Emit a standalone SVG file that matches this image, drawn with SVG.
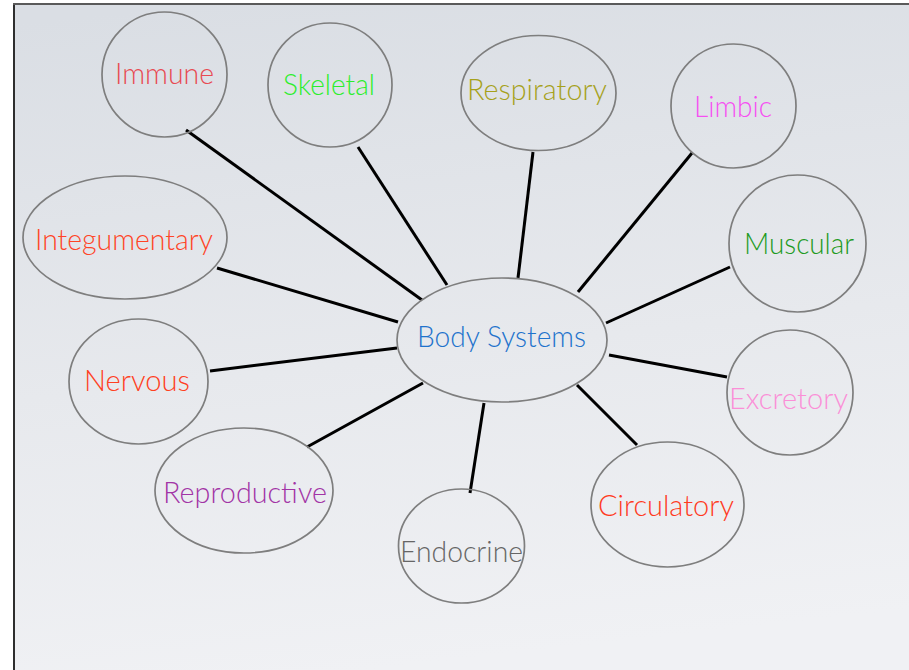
<svg xmlns="http://www.w3.org/2000/svg" width="909" height="670" viewBox="0 0 909 670">
  <defs>
    <linearGradient id="bg" x1="0.2" y1="0" x2="0.35" y2="1">
      <stop offset="0" stop-color="#dadee4"/>
      <stop offset="0.55" stop-color="#e7e9ed"/>
      <stop offset="1" stop-color="#f0f1f4"/>
    </linearGradient>
    <style>
      .node ellipse { fill: none; stroke: #7e7e7e; stroke-width: 1.7; }
      .node text { font-family: "Lato", "Liberation Sans", sans-serif; font-weight: 300; font-size: 30px; }
      #connectors line { stroke: #000; stroke-width: 3; stroke-linecap: butt; }
    </style>
  </defs>
  <rect x="0" y="0" width="909" height="670" fill="#ffffff"/>
  <rect x="14" y="4" width="900" height="670" fill="url(#bg)"/>
  <line x1="14" y1="3" x2="14" y2="670" stroke="#2e2e2e" stroke-width="2"/>
  <line x1="13" y1="4" x2="909" y2="4" stroke="#5a5a5a" stroke-width="2"/>

  <g id="connectors">
    <line x1="186" y1="130" x2="422" y2="300"/>
    <line x1="358" y1="147" x2="447" y2="285"/>
    <line x1="533" y1="152" x2="518" y2="278"/>
    <line x1="692" y1="153" x2="578" y2="292"/>
    <line x1="730" y1="267" x2="606" y2="323"/>
    <line x1="609" y1="355" x2="727" y2="377"/>
    <line x1="577" y1="385" x2="637" y2="445"/>
    <line x1="484" y1="403" x2="470" y2="493"/>
    <line x1="423" y1="383" x2="307" y2="447"/>
    <line x1="397" y1="348" x2="210" y2="371"/>
    <line x1="398" y1="322" x2="217" y2="268"/>
  </g>

  <g id="body-systems" class="node">
    <ellipse cx="502" cy="340" rx="105" ry="62"/>
    <text x="417" y="347" fill="#1f73cc" textLength="169" lengthAdjust="spacingAndGlyphs">Body Systems</text>
  </g>
  <g id="immune" class="node">
    <ellipse cx="164.5" cy="74.5" rx="62.5" ry="62.5"/>
    <text x="115" y="84" fill="#e84a52" textLength="99" lengthAdjust="spacingAndGlyphs">Immune</text>
  </g>
  <g id="skeletal" class="node">
    <ellipse cx="330" cy="85" rx="62" ry="62"/>
    <text x="283" y="95" fill="#2cee2c" textLength="92" lengthAdjust="spacingAndGlyphs">Skeletal</text>
  </g>
  <g id="respiratory" class="node">
    <ellipse cx="538.5" cy="93" rx="77.5" ry="57.5"/>
    <text x="467" y="100" fill="#a6a11b" textLength="140" lengthAdjust="spacingAndGlyphs">Respiratory</text>
  </g>
  <g id="limbic" class="node">
    <ellipse cx="733.5" cy="106" rx="62.5" ry="62"/>
    <text x="694" y="117" fill="#f64ff2" textLength="78" lengthAdjust="spacingAndGlyphs">Limbic</text>
  </g>
  <g id="muscular" class="node">
    <ellipse cx="797.5" cy="243.5" rx="68.5" ry="68.5"/>
    <text x="744" y="254" fill="#1d9a22" textLength="110" lengthAdjust="spacingAndGlyphs">Muscular</text>
  </g>
  <g id="excretory" class="node">
    <ellipse cx="790" cy="392.5" rx="63" ry="62.5"/>
    <text x="729" y="409" fill="#fb8fd7" textLength="119" lengthAdjust="spacingAndGlyphs">Excretory</text>
  </g>
  <g id="circulatory" class="node">
    <ellipse cx="667.5" cy="504.5" rx="76.5" ry="62.5"/>
    <text x="598" y="516" fill="#ff3b1e" textLength="136" lengthAdjust="spacingAndGlyphs">Circulatory</text>
  </g>
  <g id="endocrine" class="node">
    <ellipse cx="461.5" cy="546" rx="63" ry="57"/>
    <text x="400" y="562" fill="#666666" textLength="123" lengthAdjust="spacingAndGlyphs">Endocrine</text>
  </g>
  <g id="reproductive" class="node">
    <ellipse cx="244" cy="490.5" rx="89" ry="62.5"/>
    <text x="163" y="503" fill="#a234a6" textLength="164" lengthAdjust="spacingAndGlyphs">Reproductive</text>
  </g>
  <g id="nervous" class="node">
    <ellipse cx="138.5" cy="381.5" rx="69.5" ry="62.5"/>
    <text x="84" y="391" fill="#ff4022" textLength="106" lengthAdjust="spacingAndGlyphs">Nervous</text>
  </g>
  <g id="integumentary" class="node">
    <ellipse cx="125" cy="237.5" rx="102" ry="61.5"/>
    <text x="35" y="250" fill="#ff4426" textLength="178" lengthAdjust="spacingAndGlyphs">Integumentary</text>
  </g>
</svg>
